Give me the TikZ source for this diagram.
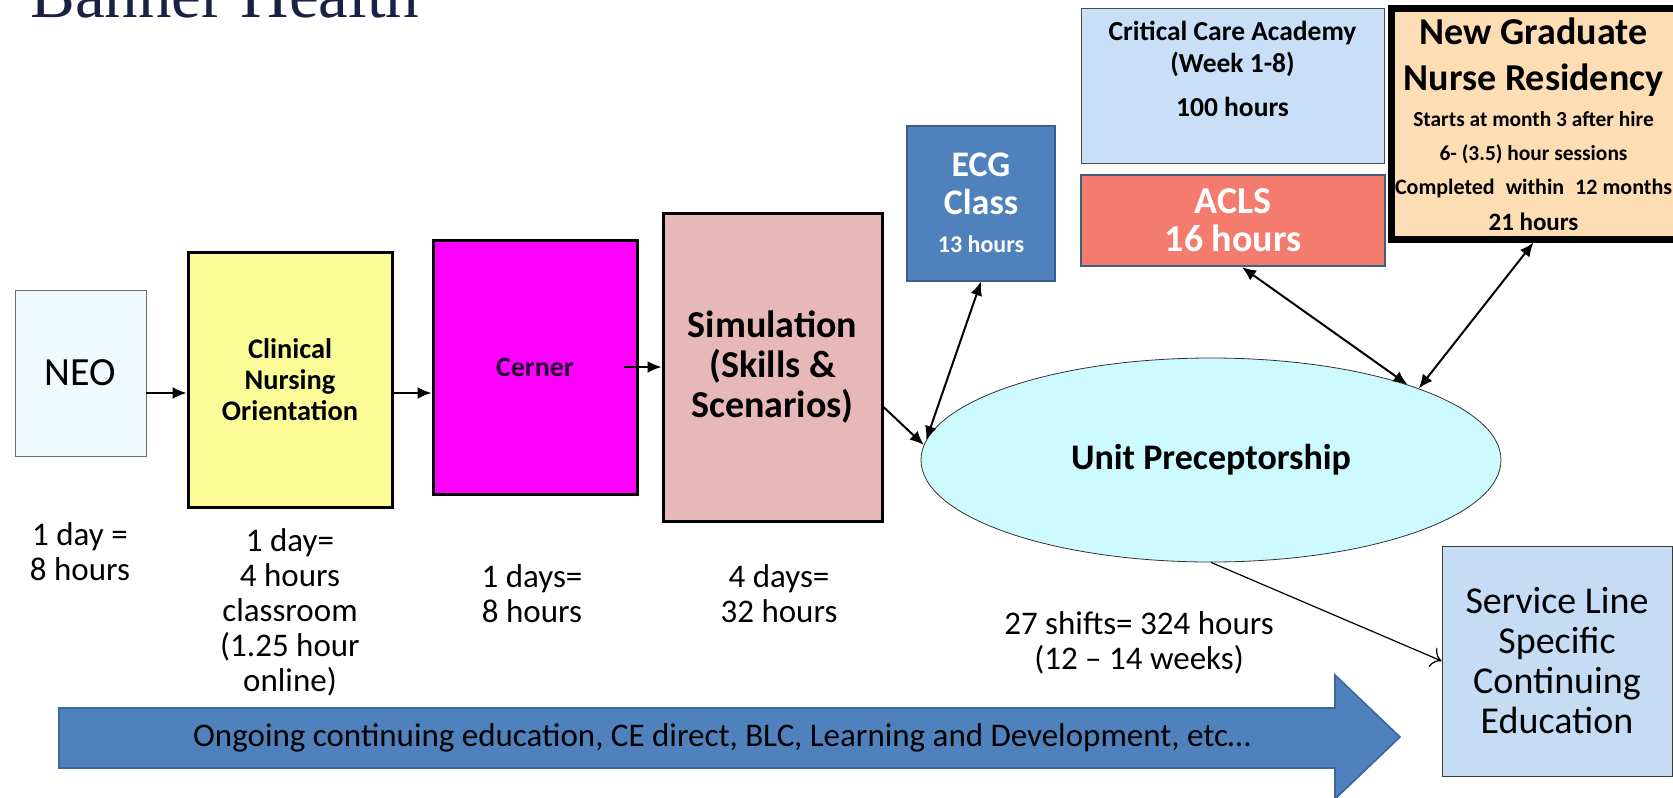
\documentclass[tikz,border=0pt]{standalone}
\usepackage{fontspec}
\setmainfont{Carlito}
\newfontfamily\bannerfont{Liberation Serif}
\usetikzlibrary{shapes.geometric}
\usetikzlibrary{arrows.meta}
\usetikzlibrary{positioning}
\newcommand{\fsz}[2]{\fontsize{#1}{#2}\selectfont}

\definecolor{bannerblue}{HTML}{1B2143}
\definecolor{neofill}{HTML}{EEFAFE}
\definecolor{neoline}{HTML}{6E6E6E}
\definecolor{clinfill}{HTML}{FBFB98}
\definecolor{cernfill}{HTML}{FF00FF}
\definecolor{cerntext}{HTML}{24002E}
\definecolor{simfill}{HTML}{E6B8B7}
\definecolor{ecgfill}{HTML}{4F81BD}
\definecolor{ecgline}{HTML}{3A5F8F}
\definecolor{ccafill}{HTML}{C9DFF7}
\definecolor{ccaline}{HTML}{4A4A4A}
\definecolor{aclsfill}{HTML}{F47C6F}
\definecolor{aclsline}{HTML}{3F5D85}
\definecolor{ngfill}{HTML}{FCDDB4}
\definecolor{unitfill}{HTML}{CCFAFF}
\definecolor{unitline}{HTML}{333333}
\definecolor{slfill}{HTML}{C6DCF5}
\definecolor{slline}{HTML}{3A3A3A}
\definecolor{ongoingfill}{HTML}{4F81BD}
\definecolor{ongoingline}{HTML}{3D6799}

\begin{document}
\begin{tikzpicture}[x=0.5pt,y=-0.5pt,
  box/.style={draw,rectangle,inner sep=2pt,align=center},
  flow/.style={line width=1pt,-{Latex[length=7pt,width=6pt]}},
  both/.style={line width=1pt,{Latex[length=7pt,width=6pt]}-{Latex[length=7pt,width=6pt]}},
  lbl/.style={align=center,font=\fsz{16.5}{17.5}}]
\useasboundingbox (0,0) rectangle (1673,797);
\node[anchor=base west,inner sep=0,text=bannerblue,font=\bannerfont\fsz{33.5}{40}] (banner) at (30,18) {Banner Health};

\node[box,draw=neoline,fill=neofill,minimum width=65.5pt,minimum height=83pt,font=\fsz{20}{24}] (neo) at (80.5,373) {NEO};
\node[box,line width=1.5pt,fill=clinfill,minimum width=102pt,minimum height=127.5pt,font=\fsz{14.2}{15.5}\bfseries] (clin) at (290,379.5) {Clinical\\Nursing\\Orientation};
\node[box,line width=1.5pt,fill=cernfill,text=cerntext,minimum width=102pt,minimum height=127pt,font=\fsz{14}{16}\bfseries] (cern) at (535,367) {Cerner};
\node[box,line width=1.5pt,fill=simfill,minimum width=109.5pt,minimum height=154pt,font=\fsz{19}{20}\bfseries] (sim) at (772.5,367) {Simulation\\(Skills \&\\Scenarios)};
\node[box,draw=ecgline,line width=1pt,fill=ecgfill,text=white,minimum width=74pt,minimum height=77.5pt,font=\fsz{18}{19}\bfseries] (ecg) at (981,203) {ECG\\Class\\{\fsz{12}{13}13 hours}};
\node[box,draw=ccaline,fill=ccafill,minimum width=151.5pt,minimum height=77.5pt,text depth=17pt,font=\fsz{13.75}{16}\bfseries] (cca) at (1232.5,85.5) {Critical Care Academy\\(Week 1-8)\\[6pt]100 hours};
\node[box,draw=aclsline,line width=1.2pt,fill=aclsfill,text=white,minimum width=152pt,minimum height=45.5pt,font=\fsz{19}{19}\bfseries] (acls) at (1233,220.5) {ACLS\\16 hours};
\node[box,line width=3.5pt,fill=ngfill,minimum width=134.5pt,minimum height=115pt,font=\fsz{10.7}{17}\bfseries] (ng) at (1533.5,124) {{\fsz{19}{22}New Graduate}\\[6pt]{\fsz{19}{22}Nurse Residency}\\[1pt]Starts at month 3 after hire\\6- (3.5) hour sessions\\{\fsz{11}{17}Completed\hspace{0.5em}within\hspace{0.5em}12 months}\\[1pt]{\fsz{12.5}{15}21 hours}};
\node[ellipse,draw=unitline,fill=unitfill,minimum width=290pt,minimum height=102pt,inner sep=0,font=\fsz{18}{20}\bfseries] (unit) at (1211,460) {Unit Preceptorship};
\node[box,draw=slline,fill=slfill,minimum width=115pt,minimum height=115pt,font=\fsz{19}{20}] (sl) at (1557,661) {Service Line\\Specific\\Continuing\\Education};

\node[lbl] (neohrs) at (80,552) {1 day =\\8 hours};
\node[lbl] (clinhrs) at (290,612) {1 day=\\4 hours\\classroom\\(1.25 hour\\online)};
\node[lbl] (cernhrs) at (532,593.5) {1 days=\\8 hours};
\node[lbl] (simhrs) at (779,593.5) {4 days=\\32 hours};
\node[lbl] (unithrs) at (1139,642.5) {27 shifts= 324 hours\\(12 -- 14 weeks)};

\draw[fill=ongoingfill,draw=ongoingline,line width=0.8pt] (59,708) -- (1335,708) -- (1335,675) -- (1400,737) -- (1335,799) -- (1335,768) -- (59,768) -- cycle;
\node[font=\fsz{16.5}{18}] (ongoing) at (722,738) {Ongoing continuing education, CE direct, BLC, Learning and Development, etc…};

\draw[flow] ([yshift=-10pt]neo.east) -- (clin.west |- 0,393);
\draw[flow] (clin.east |- 0,393) -- (cern.west |- 0,393);
\draw[flow] ([xshift=-7.5pt]cern.east) -- (sim.west);
\draw[flow] ([yshift=-20pt]sim.east) -- (unit.177);
\draw[both] (ecg.south) -- (unit.176);
\draw[both] ([xshift=4.5pt]acls.south) -- (unit.21);
\draw[both] (ng.south) -- (unit.19);
\draw[line width=0.6pt,-{To[length=5pt]}] (unit.south) -- (sl.west);
\end{tikzpicture}
\end{document}
